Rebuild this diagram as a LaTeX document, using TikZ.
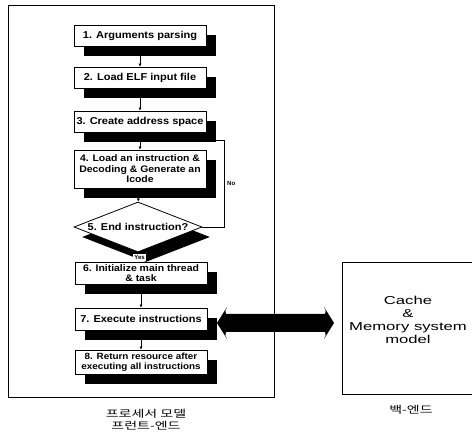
\documentclass[tikz,border=0pt]{standalone}
\usepackage{fontspec}
\setmainfont{Liberation Sans}
\newfontfamily\krfont[FakeStretch=1.4]{Noto Sans CJK KR}
\newfontfamily\widefont[FakeStretch=1.45]{Liberation Sans}
\newfontfamily\stepfont[FakeStretch=1.1]{Liberation Sans}
\usetikzlibrary{shapes.geometric,shadows,arrows.meta,backgrounds,calc}

\begin{document}
\begin{tikzpicture}[x=1pt,y=-1pt,
  stepbox/.style={draw=black, line width=0.8pt, fill=white, align=center,
    font=\stepfont\bfseries\fontsize{10}{10.5}\selectfont, inner sep=1pt,
    minimum width=132pt,
    drop shadow={shadow xshift=10pt, shadow yshift=-10pt, fill=black, opacity=1}},
  decbox/.style={diamond, aspect=2.5, draw=black, line width=0.8pt, fill=white,
    inner sep=0pt, minimum width=128pt, minimum height=50pt,
    font=\stepfont\bfseries\fontsize{10}{10.5}\selectfont,
    drop shadow={shadow xshift=8pt, shadow yshift=-10pt, fill=black, opacity=1}},
  flow/.style={line width=0.7pt, -{Latex[length=3pt,width=3pt]}},
  loopline/.style={line width=0.7pt},
  tag/.style={font=\bfseries\fontsize{6}{7}\selectfont, inner sep=1pt},
  frame/.style={line width=0.8pt},
  klabel/.style={font=\krfont\fontsize{10}{11.5}\selectfont, align=center, inner sep=0pt}
]
\useasboundingbox (0,0) rectangle (472,438);

% front-end frame
\draw[frame] (8,5) rectangle (274,397);

% flow steps
\node[stepbox, minimum height=21pt] (b1) at (140,35.5) {1. Arguments parsing};
\node[stepbox, minimum height=21pt] (b2) at (140,77.5) {2. Load ELF input file};
\node[stepbox, minimum height=21pt] (b3) at (140,121.5) {3. Create address space};
\node[stepbox, minimum height=38pt, font=\stepfont\bfseries\fontsize{9.5}{10.5}\selectfont]
  (b4) at (140,169) {4. Load an instruction \&\\Decoding \& Generate an\\Icode};
\node[decbox] (dec) at (138,227) {5. End instruction?};
\node[stepbox, minimum height=22pt, font=\stepfont\bfseries\fontsize{9.5}{9.5}\selectfont]
  (b6) at (141,273) {6. Initialize main thread\\\& task};
\node[stepbox, minimum height=22pt] (b7) at (141,319) {7. Execute instructions};
\node[stepbox, minimum height=24pt, font=\stepfont\bfseries\fontsize{9}{10}\selectfont]
  (b8) at (141,362) {8. Return resource after\\executing all instructions};

% loop-back corner
\coordinate (lp) at (224,140);

\begin{pgfonlayer}{background}
  \draw[flow] (b1.south) -- (b2.north);
  \draw[flow] (b2.south) -- (b3.north);
  \draw[flow] (b3.south) -- (b4.north);
  \draw[flow] (b4.south) -- (dec.north);
  \draw[flow] (b6.south) -- (b7.north);
  \draw[flow] (b7.south) -- (b8.north);
  \draw[loopline] (dec.east) -- (dec.east -| lp) -- (lp) -- (lp -| b3.south);
\end{pgfonlayer}
\draw[flow] (dec.south) -- node[tag, fill=white, pos=0.55] {Yes} (b6.north);
\node[tag, anchor=west] (no) at (226,183) {No};

% back-end model
\draw[frame] (472,262) -- (342,262) -- (342,394) -- (472,394);
\node[font=\widefont\fontsize{11.5}{13}\selectfont, align=center] (mem) at (408,320)
  {Cache\\\&\\Memory system\\model};

% thick two-way link between front-end and back-end
\coordinate (al) at (217,323);
\coordinate (ar) at (334,323);
\fill[black] (al) -- ($(al)+(10,-16)$) .. controls ($(al)+(8,-12)$) .. ($(al)+(9,-9)$)
  -- ($(ar)+(-9,-9)$) .. controls ($(ar)+(-8,-12)$) .. ($(ar)+(-10,-16)$)
  -- (ar) -- ($(ar)+(-10,16)$) .. controls ($(ar)+(-8,12)$) .. ($(ar)+(-9,9)$)
  -- ($(al)+(9,9)$) .. controls ($(al)+(8,12)$) .. ($(al)+(10,16)$) -- cycle;

% captions
\node[klabel] (fe) at (146,419.5) {프로세서 모델\\프런트-엔드};
\node[klabel] (be) at (411,410) {백-엔드};
\end{tikzpicture}
\end{document}
